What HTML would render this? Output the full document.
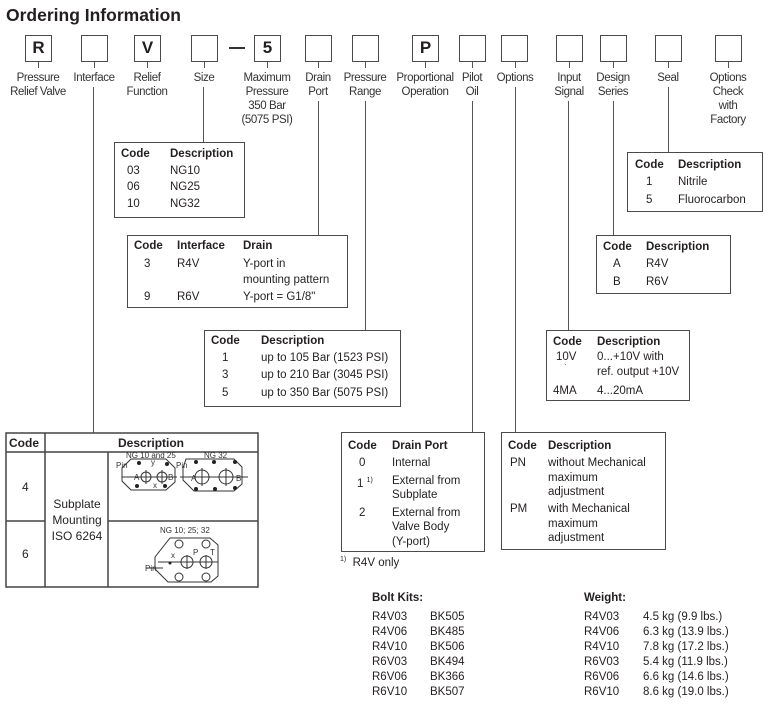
<!DOCTYPE html>
<html><head><meta charset="utf-8"><style>
body{margin:0;width:780px;height:710px;background:#fff;position:relative;font-family:"Liberation Sans",Arial,sans-serif;color:#231f20;overflow:hidden}
.a{position:absolute;white-space:nowrap;font-size:11.5px;line-height:14px}
.b{font-weight:bold}
.box{position:absolute;border:1.5px solid #4a4a4a;box-sizing:border-box;background:#fff}
.cb{position:absolute;top:35px;width:27px;height:27px;border:1.5px solid #4a4a4a;box-sizing:border-box;font-weight:bold;font-size:17px;text-align:center;line-height:24px}
.lbl{position:absolute;top:71px;width:90px;text-align:center;font-size:11.5px;line-height:14px;letter-spacing:-0.4px;color:#333}
.v{position:absolute;width:1.3px;background:#555}
</style></head><body>
<div class="a b" style="left:6px;top:4px;font-size:17.5px;line-height:22px">Ordering Information</div>

<div class="cb" style="left:25px">R</div>
<div class="cb" style="left:81px"></div>
<div class="cb" style="left:134px">V</div>
<div class="cb" style="left:191px"></div>
<div style="position:absolute;left:229px;top:47px;width:16px;height:2px;background:#333"></div>
<div class="cb" style="left:254px">5</div>
<div class="cb" style="left:305px"></div>
<div class="cb" style="left:352px"></div>
<div class="cb" style="left:412px">P</div>
<div class="cb" style="left:459px"></div>
<div class="cb" style="left:501px"></div>
<div class="cb" style="left:556px"></div>
<div class="cb" style="left:600px"></div>
<div class="cb" style="left:655px"></div>
<div class="cb" style="left:715px"></div>

<!-- ticks -->
<div class="v" style="left:38px;top:62px;height:6px"></div>
<div class="v" style="left:94px;top:62px;height:6px"></div>
<div class="v" style="left:147px;top:62px;height:6px"></div>
<div class="v" style="left:204px;top:62px;height:6px"></div>
<div class="v" style="left:267px;top:62px;height:6px"></div>
<div class="v" style="left:318px;top:62px;height:6px"></div>
<div class="v" style="left:365px;top:62px;height:6px"></div>
<div class="v" style="left:425px;top:62px;height:6px"></div>
<div class="v" style="left:472px;top:62px;height:6px"></div>
<div class="v" style="left:515px;top:62px;height:6px"></div>
<div class="v" style="left:569px;top:62px;height:6px"></div>
<div class="v" style="left:613px;top:62px;height:6px"></div>
<div class="v" style="left:668px;top:62px;height:6px"></div>
<div class="v" style="left:728px;top:62px;height:6px"></div>

<div class="lbl" style="left:-7px">Pressure<br>Relief Valve</div>
<div class="lbl" style="left:49px">Interface</div>
<div class="lbl" style="left:102px">Relief<br>Function</div>
<div class="lbl" style="left:159px">Size</div>
<div class="lbl" style="left:222px">Maximum<br>Pressure<br>350 Bar<br>(5075 PSI)</div>
<div class="lbl" style="left:273px">Drain<br>Port</div>
<div class="lbl" style="left:320px">Pressure<br>Range</div>
<div class="lbl" style="left:380px">Proportional<br>Operation</div>
<div class="lbl" style="left:427px">Pilot<br>Oil</div>
<div class="lbl" style="left:470px">Options</div>
<div class="lbl" style="left:524px">Input<br>Signal</div>
<div class="lbl" style="left:568px">Design<br>Series</div>
<div class="lbl" style="left:623px">Seal</div>
<div class="lbl" style="left:683px">Options<br>Check<br>with<br>Factory</div>

<!-- connectors -->
<div class="v" style="left:93px;top:87px;height:346px"></div>
<div class="v" style="left:203px;top:87px;height:56px"></div>
<div class="v" style="left:318px;top:101px;height:135px"></div>
<div class="v" style="left:365px;top:101px;height:230px"></div>
<div class="v" style="left:472px;top:101px;height:332px"></div>
<div class="v" style="left:515px;top:87px;height:346px"></div>
<div class="v" style="left:568px;top:101px;height:230px"></div>
<div class="v" style="left:613px;top:101px;height:135px"></div>
<div class="v" style="left:668px;top:87px;height:66px"></div>

<!-- Size -->
<div class="box" style="left:114px;top:142px;width:131px;height:76px"></div>
<div class="a b" style="left:121px;top:147px">Code</div><div class="a b" style="left:170px;top:147px">Description</div>
<div class="a" style="left:127px;top:164px">03</div><div class="a" style="left:170px;top:164px">NG10</div>
<div class="a" style="left:127px;top:180px">06</div><div class="a" style="left:170px;top:180px">NG25</div>
<div class="a" style="left:127px;top:197px">10</div><div class="a" style="left:170px;top:197px">NG32</div>

<!-- Drain -->
<div class="box" style="left:127px;top:235px;width:221px;height:73px"></div>
<div class="a b" style="left:134px;top:239px">Code</div><div class="a b" style="left:177px;top:239px">Interface</div><div class="a b" style="left:243px;top:239px">Drain</div>
<div class="a" style="left:144px;top:257px">3</div><div class="a" style="left:177px;top:257px">R4V</div><div class="a" style="left:243px;top:257px">Y-port in</div>
<div class="a" style="left:243px;top:273px">mounting pattern</div>
<div class="a" style="left:144px;top:290px">9</div><div class="a" style="left:177px;top:290px">R6V</div><div class="a" style="left:243px;top:290px">Y-port = G1/8"</div>

<!-- Range -->
<div class="box" style="left:204px;top:330px;width:197px;height:77px"></div>
<div class="a b" style="left:211px;top:334px">Code</div><div class="a b" style="left:261px;top:334px">Description</div>
<div class="a" style="left:222px;top:351px">1</div><div class="a" style="left:261px;top:351px">up to 105 Bar (1523 PSI)</div>
<div class="a" style="left:222px;top:368px">3</div><div class="a" style="left:261px;top:368px">up to 210 Bar (3045 PSI)</div>
<div class="a" style="left:222px;top:386px">5</div><div class="a" style="left:261px;top:386px">up to 350 Bar (5075 PSI)</div>

<!-- Seal -->
<div class="box" style="left:627px;top:152px;width:136px;height:60px"></div>
<div class="a b" style="left:635px;top:158px">Code</div><div class="a b" style="left:678px;top:158px">Description</div>
<div class="a" style="left:646px;top:175px">1</div><div class="a" style="left:678px;top:175px">Nitrile</div>
<div class="a" style="left:646px;top:193px">5</div><div class="a" style="left:678px;top:193px">Fluorocarbon</div>

<!-- Design -->
<div class="box" style="left:596px;top:235px;width:135px;height:59px"></div>
<div class="a b" style="left:603px;top:240px">Code</div><div class="a b" style="left:646px;top:240px">Description</div>
<div class="a" style="left:613px;top:257px">A</div><div class="a" style="left:646px;top:257px">R4V</div>
<div class="a" style="left:613px;top:275px">B</div><div class="a" style="left:646px;top:275px">R6V</div>

<!-- Input -->
<div class="box" style="left:546px;top:330px;width:144px;height:71px"></div>
<div class="a b" style="left:553px;top:335px">Code</div><div class="a b" style="left:597px;top:335px">Description</div>
<div class="a" style="left:556px;top:350px">10V</div><div class="a" style="left:597px;top:350px">0...+10V with</div>
<div class="a" style="left:564px;top:361px;font-size:8px">`</div>
<div class="a" style="left:597px;top:365px">ref. output +10V</div>
<div class="a" style="left:553px;top:384px">4MA</div><div class="a" style="left:597px;top:384px">4...20mA</div>

<!-- Drain port -->
<div class="box" style="left:341px;top:432px;width:144px;height:120px"></div>
<div class="a b" style="left:348px;top:439px">Code</div><div class="a b" style="left:392px;top:439px">Drain Port</div>
<div class="a" style="left:359px;top:456px">0</div><div class="a" style="left:392px;top:456px">Internal</div>
<div class="a" style="left:357px;top:474px">1 <sup style="font-size:7px">1)</sup></div><div class="a" style="left:392px;top:474px">External from</div>
<div class="a" style="left:392px;top:488px">Subplate</div>
<div class="a" style="left:359px;top:506px">2</div><div class="a" style="left:392px;top:506px">External from</div>
<div class="a" style="left:392px;top:520px">Valve Body</div>
<div class="a" style="left:392px;top:535px">(Y-port)</div>
<div class="a" style="left:340px;top:553px"><sup style="font-size:7px">1)</sup>&nbsp; R4V only</div>

<!-- Options -->
<div class="box" style="left:501px;top:432px;width:165px;height:118px"></div>
<div class="a b" style="left:508px;top:439px">Code</div><div class="a b" style="left:548px;top:439px">Description</div>
<div class="a" style="left:510px;top:456px">PN</div><div class="a" style="left:548px;top:456px">without Mechanical</div>
<div class="a" style="left:548px;top:471px">maximum</div>
<div class="a" style="left:548px;top:485px">adjustment</div>
<div class="a" style="left:510px;top:502px">PM</div><div class="a" style="left:548px;top:502px">with Mechanical</div>
<div class="a" style="left:548px;top:517px">maximum</div>
<div class="a" style="left:548px;top:531px">adjustment</div>

<!-- Big table -->
<svg style="position:absolute;left:0;top:0" width="780" height="710">
<g fill="none" stroke="#444" stroke-width="1.5">
<rect x="6" y="433" width="252" height="154"/>
<line x1="6" y1="452" x2="258" y2="452"/>
<line x1="45" y1="433" x2="45" y2="587"/>
<line x1="108" y1="452" x2="108" y2="587"/>
<line x1="6" y1="521" x2="45" y2="521"/>
<line x1="108" y1="521" x2="258" y2="521"/>
</g>
<g fill="none" stroke="#333" stroke-width="1">
<path d="M131 459 h35 l9 9 v14 l-9 8 h-35 l-9 -9 v-13 z"/>
<path d="M186 459 h48 l8 8 v17 l-8 7 h-40 l-11 -11 v-12 z"/>
<circle cx="146" cy="477" r="5"/><circle cx="162" cy="477" r="5"/>
<circle cx="202" cy="477" r="7"/><circle cx="226" cy="477" r="7"/>
<line x1="122" y1="477" x2="177" y2="477"/><line x1="146" y1="470" x2="146" y2="484"/><line x1="162" y1="470" x2="162" y2="484"/>
<line x1="180" y1="477" x2="248" y2="477"/><line x1="202" y1="468" x2="202" y2="486"/><line x1="226" y1="468" x2="226" y2="486"/>
<path d="M170 538 h40 l8 7 v31 l-7 6 h-43 l-13 -13 v-12 z"/>
<circle cx="187" cy="562" r="6"/><circle cx="206" cy="562" r="6"/>
<line x1="158" y1="562" x2="218" y2="562"/>
<line x1="187" y1="555" x2="187" y2="569"/><line x1="206" y1="555" x2="206" y2="569"/>
<circle cx="179" cy="544" r="4"/><circle cx="206" cy="544" r="4"/><circle cx="179" cy="577" r="4"/><circle cx="206" cy="577" r="4"/>
<line x1="146" y1="568" x2="163" y2="568"/>
</g>
<g fill="#222">
<circle cx="139" cy="463" r="2"/><circle cx="167" cy="464" r="2"/><circle cx="137" cy="486" r="2"/><circle cx="165" cy="486" r="2"/>
<circle cx="196" cy="462" r="2"/><circle cx="214" cy="462" r="2"/><circle cx="235" cy="462" r="2"/><circle cx="196" cy="489" r="2"/><circle cx="215" cy="489" r="2"/><circle cx="235" cy="488" r="2"/>
<circle cx="170" cy="563" r="1.5"/>
</g>
<g font-family="Liberation Sans,sans-serif" font-size="8" fill="#333">
<text x="126" y="458">NG 10 and 25</text><text x="204" y="458">NG 32</text>
<text x="116" y="468">Pin</text><text x="176" y="468">Pin</text>
<text x="134" y="480">A</text><text x="168" y="480">B</text>
<text x="191" y="481">A</text><text x="236" y="481">B</text>
<text x="151" y="465">y</text><text x="153" y="488">x</text>
<text x="160" y="533">NG 10; 25; 32</text>
<text x="145" y="571">Pin</text><text x="193" y="555">P</text><text x="210" y="555">T</text><text x="171" y="558">x</text>
</g>
</svg>
<div class="a b" style="left:9px;top:436px;font-size:12px">Code</div>
<div class="a b" style="left:118px;top:436px;font-size:12px">Description</div>
<div class="a" style="left:22px;top:480px;font-size:12px">4</div>
<div class="a" style="left:22px;top:547px;font-size:12px">6</div>
<div class="a" style="left:48px;top:496px;width:58px;text-align:center;font-size:12px;line-height:16px">Subplate<br>Mounting<br>ISO 6264</div>

<!-- Bolt kits -->
<div class="a b" style="left:372px;top:591px">Bolt Kits:</div>
<div class="a" style="left:372px;top:610px;line-height:15px">R4V03<br>R4V06<br>R4V10<br>R6V03<br>R6V06<br>R6V10</div>
<div class="a" style="left:430px;top:610px;line-height:15px">BK505<br>BK485<br>BK506<br>BK494<br>BK366<br>BK507</div>
<div class="a b" style="left:584px;top:591px">Weight:</div>
<div class="a" style="left:584px;top:610px;line-height:15px">R4V03<br>R4V06<br>R4V10<br>R6V03<br>R6V06<br>R6V10</div>
<div class="a" style="left:643px;top:610px;line-height:15px">4.5 kg (9.9 lbs.)<br>6.3 kg (13.9 lbs.)<br>7.8 kg (17.2 lbs.)<br>5.4 kg (11.9 lbs.)<br>6.6 kg (14.6 lbs.)<br>8.6 kg (19.0 lbs.)</div>
</body></html>
